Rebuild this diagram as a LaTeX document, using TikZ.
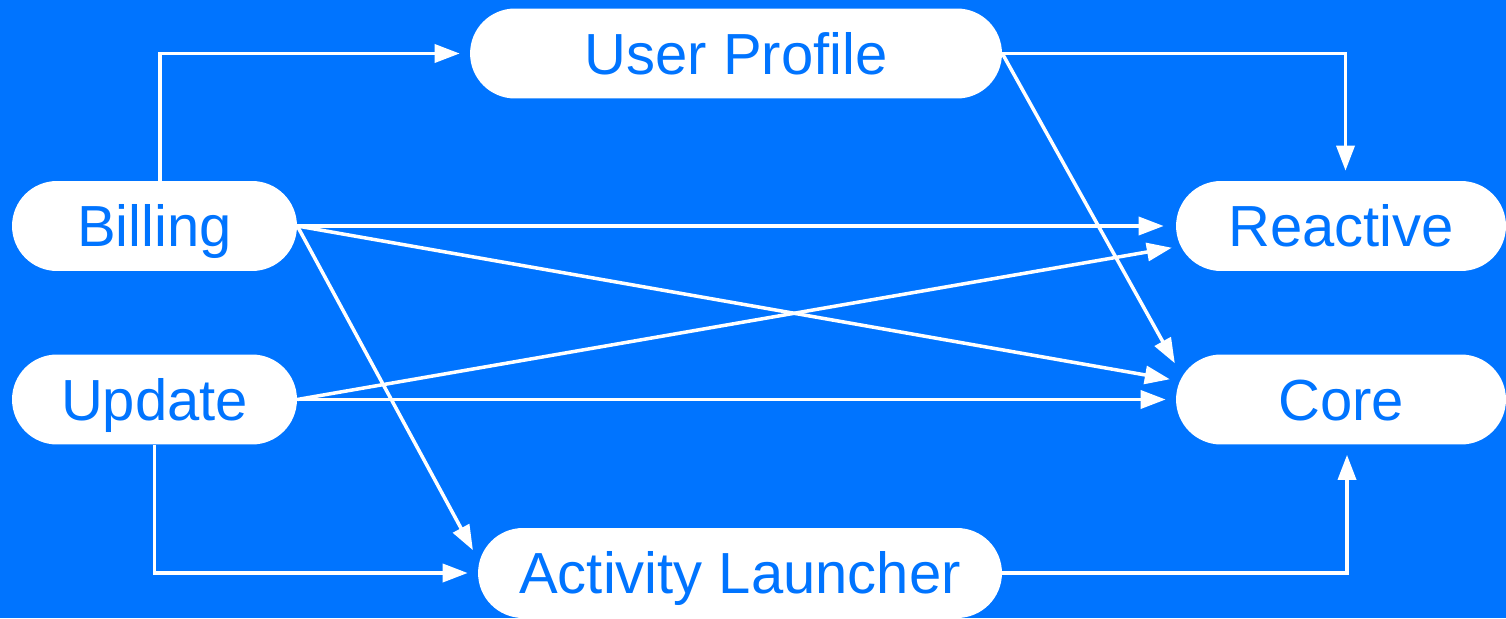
\documentclass[tikz,border=0pt]{standalone}
\usepackage{fontspec}
\setmainfont{Liberation Sans}
\usetikzlibrary{arrows.meta, calc}
\definecolor{appblue}{RGB}{0,116,255}

\begin{document}
\begin{tikzpicture}[
    x=0.02cm, y=-0.02cm,
    pill/.style={
        rectangle, fill=white, rounded corners=0.9cm,
        text=appblue, minimum height=1.8cm, inner sep=0pt,
        text height=23.6pt, text depth=0pt,
        font=\fontsize{33}{40}\selectfont
    },
    arrow/.style={-{Triangle[length=0.5cm, width=0.36cm]}, white,
        line width=2pt, shorten >=0.2cm}
]

\useasboundingbox[fill=appblue] (0,0) rectangle (1506,618);

%% ─── NODES ───────────────────────────────────────────────────
\node[pill, minimum width=10.64cm] (profile)  at (736,53.5)  {User Profile};
\node[pill, minimum width=5.7cm]   (billing)  at (154.5,226) {Billing};
\node[pill, minimum width=5.7cm]   (update)   at (154.5,399.5) {Update};
\node[pill, minimum width=6.6cm]   (reactive) at (1341,226)  {Reactive};
\node[pill, minimum width=6.6cm]   (core)     at (1341,399.5) {Core};
\node[pill, minimum width=10.48cm] (launcher) at (740,573)   {Activity Launcher};

%% ─── ARROWS ──────────────────────────────────────────────────
\draw[arrow] ([xshift=0.11cm]billing.north) |- (profile.west);
\draw[arrow] (profile.east) -| ([xshift=0.09cm]reactive.north);
\draw[arrow] (profile.east) -- ($(core.west)+(4,-27.5)$);

\draw[arrow, shorten >=0.24cm] (billing.east) -- (reactive.west);
\draw[arrow] (billing.east) -- ($(core.west)+(4,-18.5)$);
\draw[arrow] (billing.east) -- ($(launcher.west)+(0,-14)$);

\draw[arrow] (update.east) -- ($(reactive.west)+(6,20)$);
\draw[arrow] (update.east) -- (core.west);
\draw[arrow] (update.south) |- (launcher.west);

\draw[arrow] (launcher.east) -| ([xshift=0.12cm]core.south);

\end{tikzpicture}
\end{document}
